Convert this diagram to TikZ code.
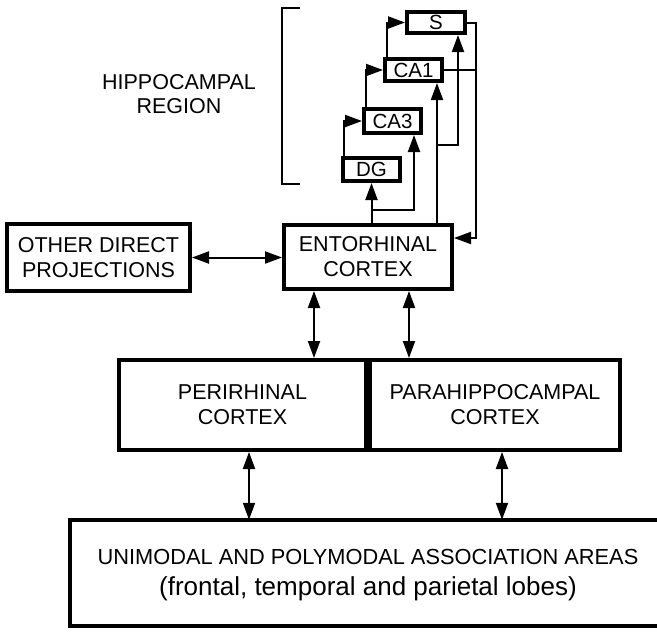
\documentclass[tikz,border=0pt]{standalone}
\usepackage{fontspec}
\setmainfont{Liberation Sans}
\usepackage{tikz}
\usetikzlibrary{arrows.meta,positioning,calc}

\tikzset{
  region/.style={draw,line width=4pt,inner sep=0pt,align=center,font=\fontsize{21.5}{25}\selectfont},
  field/.style={draw,line width=4pt,inner sep=0pt,font=\fontsize{20.5}{22}\selectfont},
  link/.style={line width=2pt},
  tip/.tip={Triangle[length=17pt,width=12pt]}
}

\begin{document}
\begin{tikzpicture}[x=1pt,y=-1pt,>=tip]
  \useasboundingbox (0,0) rectangle (657,632);

  % hippocampal fields
  \node[field,minimum width=58,minimum height=21] (s) at (436,22.5) {S};
  \node[field,minimum width=57,minimum height=22] (ca1) at (413.5,70) {CA1};
  \node[field,minimum width=57,minimum height=24] (ca3) at (392.5,121) {CA3};
  \node[field,minimum width=57,minimum height=23] (dg) at (371.5,169.5) {DG};

  % bracket and label
  \draw[line width=1.8pt] (300,8) -- (282,8) -- (282,184) -- (300,184);
  \node[align=center,font=\fontsize{21.5}{24}\selectfont] (hipp) at (179,94) {HIPPOCAMPAL\\REGION};

  % cortical boxes
  \node[region,minimum width=168,minimum height=64] (ent) at (368,257) {ENTORHINAL\\CORTEX};
  \node[region,minimum width=183,minimum height=67] (other) at (98.5,257.5) {OTHER DIRECT\\PROJECTIONS};
  \node[region,minimum width=247,minimum height=90,anchor=east] (peri) at (368,405) {PERIRHINAL\\CORTEX};
  \node[region,minimum width=250,minimum height=90,anchor=west] (para) at (368,405) {PARAHIPPOCAMPAL\\CORTEX};

  % association areas (open to the right)
  \node[minimum width=630,minimum height=106,inner sep=0pt] (assoc) at (385,573) {};
  \draw[line width=4pt] (assoc.north east) -- (assoc.north west) -- (assoc.south west) -- (assoc.south east);
  \node[font=\fontsize{21.8}{24}\selectfont] (uni) at (368,557) {UNIMODAL AND POLYMODAL ASSOCIATION AREAS};
  \node[font=\fontsize{26}{28}\selectfont] (lobes) at (368,589) {(frontal, temporal and parietal lobes)};

  % trisynaptic chain
  \draw[link,->] ([xshift=2.5pt]dg.north west) |- (ca3.west);
  \draw[link,->] ([xshift=3.5pt]ca3.north west) |- (ca1.west);
  \draw[link,->] ([xshift=3.5pt]ca1.north west) |- (s.west);

  % entorhinal inputs
  \coordinate (b1) at (414,210);
  \coordinate (b2) at (458,145);
  \coordinate (c1) at (437,145);
  \draw[link,->] (dg.south |- ent.north) -- (dg.south);
  \draw[link,->] (dg.south |- b1) -| (b1 |- ca3.south);
  \draw[link,->] (c1 |- ent.north) -- (c1 |- ca1.south);
  \draw[link,->] (c1) -| (b2 |- s.south);

  % outputs back to entorhinal
  \coordinate (back) at (476,238);
  \draw[link,->] (s.east) -| (back) -- (back -| ent.east);
  \draw[link] (ca1.east) -- (ca1.east -| back);

  % cortical connections
  \coordinate (p1) at (314,0);
  \coordinate (p2) at (409,0);
  \coordinate (q1) at (249,0);
  \coordinate (q2) at (502,0);
  \draw[link,<->] (other.east) -- (other.east -| ent.west);
  \draw[link,<->] (p1 |- ent.south) -- (p1 |- peri.north);
  \draw[link,<->] (p2 |- ent.south) -- (p2 |- para.north);
  \draw[link,<->] (q1 |- peri.south) -- (q1 |- assoc.north);
  \draw[link,<->] (q2 |- para.south) -- (q2 |- assoc.north);
\end{tikzpicture}
\end{document}
